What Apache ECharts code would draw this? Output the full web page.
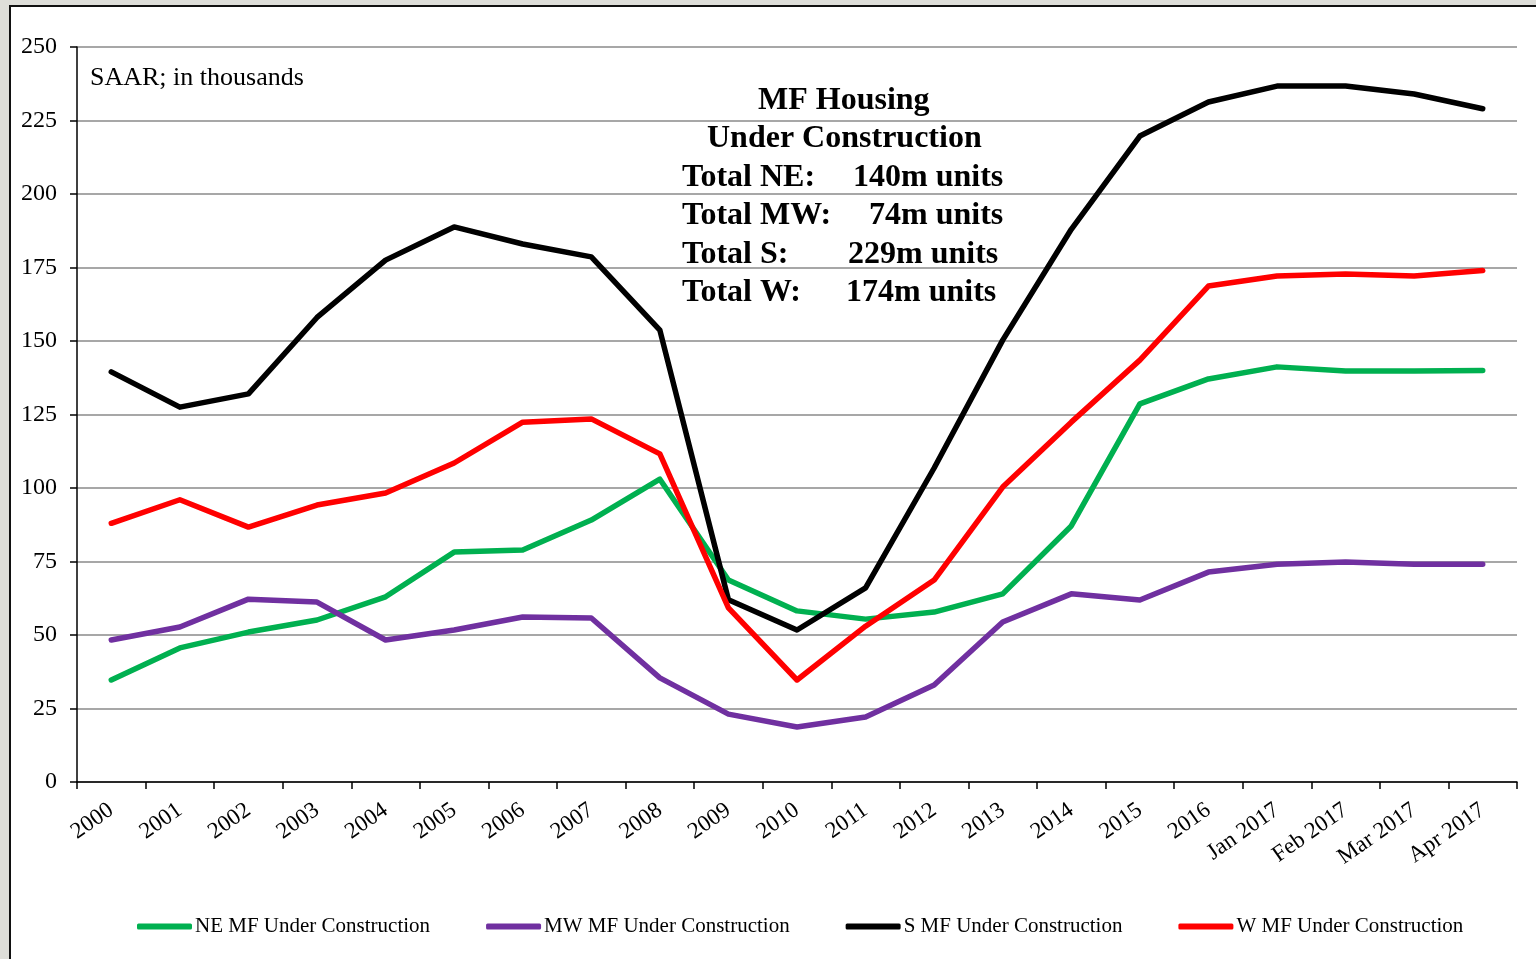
<!DOCTYPE html>
<html>
<head>
<meta charset="utf-8">
<script src="https://cdn.jsdelivr.net/npm/echarts@6/dist/echarts.min.js"></script>
<style>
    body { margin: 0; background: #deded9; overflow: hidden; }
    #frame {
        position: absolute; left: 9px; top: 5px; width: 1560px; height: 980px;
        background: #fff; border-left: 2px solid #111; border-top: 2px solid #111;
    }
    #chart { position: absolute; left: 0; top: 0; width: 1536px; height: 959px; }
</style>
</head>
<body>
<div id="frame"></div>
<div id="chart"></div>
<script>
    // categories along the x axis
    const periods = ['2000', '2001', '2002', '2003', '2004', '2005', '2006', '2007', '2008', '2009',
        '2010', '2011', '2012', '2013', '2014', '2015', '2016', 'Jan 2017', 'Feb 2017', 'Mar 2017', 'Apr 2017'];

    // MF units under construction, SAAR, thousands
    const neValues = [34.7, 45.6, 51, 55.1, 63, 78.2, 78.9, 89.1, 103, 68.7, 58.2, 55.4, 57.8, 64, 87.1, 128.6, 137.1, 141.2, 139.8, 139.8, 140];
    const mwValues = [48.3, 52.7, 62.2, 61.2, 48.3, 51.7, 56.1, 55.8, 35.4, 23.1, 18.7, 22.1, 33, 54.4, 64, 61.9, 71.4, 74.1, 74.8, 74.1, 74.1];
    const sValues = [139.5, 127.5, 132, 158, 177.5, 188.8, 183, 178.6, 153.7, 62, 51.7, 66, 106.8, 150.3, 188, 219.7, 231.3, 236.7, 236.7, 234, 229];
    const wValues = [88, 96, 86.7, 94.2, 98.3, 108.5, 122.4, 123.5, 111.6, 59.2, 34.7, 53, 68.7, 100.3, 122.4, 143.5, 168.7, 172.1, 172.8, 172.1, 174];

    const seriesNames = ['NE MF Under Construction', 'MW MF Under Construction', 'S MF Under Construction', 'W MF Under Construction'];
    const seriesColors = ['#00b050', '#7030a0', '#000000', '#ff0000'];

    const totalLabels = ['Total NE:', 'Total MW:', 'Total S:', 'Total W:'];
    const totalValues = ['140m units', '74m units', '229m units', '174m units'];

    const serif = '"Liberation Serif", "Times New Roman", serif';

    let myChart = echarts.init(document.getElementById('chart'));

    // text box in the middle of the plot
    let valueLeft = [853, 869, 848, 846];
    let boxText = [];
    boxText.push({ type: 'text', left: 758, top: 85, style: { text: 'MF Housing', font: 'bold 32px ' + serif, fill: '#000' } });
    boxText.push({ type: 'text', left: 707, top: 123, style: { text: 'Under Construction', font: 'bold 32px ' + serif, fill: '#000' } });
    for (let i = 0; i < totalLabels.length; i++) {
        let y = 161.5 + i * 38.5;
        boxText.push({ type: 'text', left: 682, top: y, style: { text: totalLabels[i], font: 'bold 32px ' + serif, fill: '#000' } });
        boxText.push({ type: 'text', left: valueLeft[i], top: y, style: { text: totalValues[i], font: 'bold 32px ' + serif, fill: '#000' } });
    }
    boxText.push({ type: 'text', left: 90, top: 65, style: { text: 'SAAR; in thousands', font: '26px ' + serif, fill: '#000' } });

    let lineSeries = [];
    let allValues = [neValues, mwValues, sValues, wValues];
    for (let i = 0; i < allValues.length; i++) {
        lineSeries.push({
            name: seriesNames[i],
            type: 'line',
            data: allValues[i],
            symbol: 'none',
            color: seriesColors[i],
            lineStyle: { width: 5.5, color: seriesColors[i], cap: 'round', join: 'round' }
        });
    }

    myChart.setOption({
        animation: false,
        backgroundColor: 'transparent',
        grid: { left: 77, right: 19, top: 47, bottom: 177 },
        legend: {
            data: seriesNames,
            left: 132,
            top: 911,
            icon: 'roundRect',
            itemWidth: 55,
            itemHeight: 6,
            itemGap: 56,
            textStyle: { fontFamily: serif, fontSize: 21, color: '#000', padding: [0, 0, 0, -2] }
        },
        xAxis: {
            type: 'category',
            data: periods,
            boundaryGap: true,
            axisLine: { lineStyle: { color: '#000', width: 1.5 } },
            axisTick: { show: true, length: 7, inside: false, lineStyle: { color: '#000', width: 1.5 } },
            axisLabel: { rotate: 35, margin: 26, fontFamily: serif, fontSize: 23, color: '#000', interval: 0 },
            splitLine: { show: false }
        },
        yAxis: {
            type: 'value',
            min: 0,
            max: 250,
            interval: 25,
            axisLine: { show: true, lineStyle: { color: '#000', width: 1.5 } },
            axisTick: { show: true, length: 7, lineStyle: { color: '#000', width: 1.5 } },
            axisLabel: { margin: 20, fontFamily: serif, fontSize: 24, color: '#000' },
            splitLine: { lineStyle: { color: '#8a8a8a', width: 1.5 } }
        },
        graphic: boxText,
        series: lineSeries
    });
</script>
</body>
</html>
